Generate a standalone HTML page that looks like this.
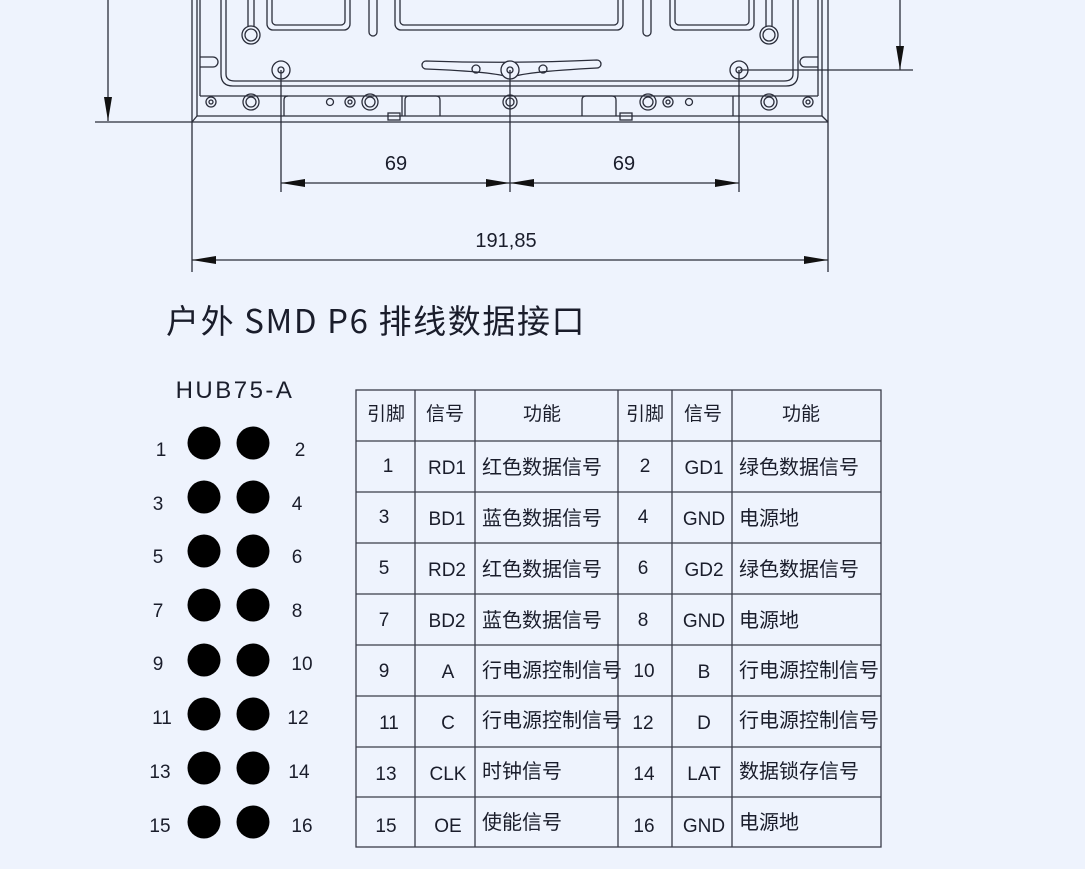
<!DOCTYPE html>
<html><head><meta charset="utf-8">
<style>
html,body{margin:0;padding:0;background:#eef3fd;}
svg{display:block}
text{font-family:"Liberation Sans","Noto Sans CJK SC",sans-serif;fill:#1a1d2b}
.n{font-family:"Noto Sans CJK SC","Liberation Sans",sans-serif}
</style></head>
<body>
<svg width="1085" height="869" viewBox="0 0 1085 869" xmlns="http://www.w3.org/2000/svg">
<defs>
<marker id="ar" viewBox="0 0 24 8" refX="24" refY="4" markerWidth="24" markerHeight="8" markerUnits="userSpaceOnUse" orient="auto-start-reverse"><path d="M0,0L24,4L0,8z" fill="#111"/></marker>
</defs>
<g stroke="#2a2d3a" stroke-width="1.3" fill="none">
<line x1="108" y1="0" x2="108" y2="121" marker-end="url(#ar)"/>
<line x1="95" y1="122" x2="192" y2="122"/>
<line x1="900" y1="0" x2="900" y2="70" marker-end="url(#ar)"/>
<line x1="740" y1="70" x2="913" y2="70"/>
<line x1="192" y1="0" x2="192" y2="272"/>
<line x1="828" y1="0" x2="828" y2="272"/>
<line x1="197" y1="0" x2="197" y2="116"/>
<line x1="200" y1="0" x2="200" y2="96"/>
<line x1="818" y1="0" x2="818" y2="96"/>
<line x1="822" y1="0" x2="822" y2="116"/>
<line x1="192" y1="122" x2="828" y2="122"/>
<line x1="197" y1="116" x2="822" y2="116"/>
<line x1="192" y1="122" x2="197" y2="116"/>
<line x1="828" y1="122" x2="822" y2="116"/>
<line x1="200" y1="96" x2="818" y2="96"/>
<path d="M221,0 V74 Q221,86 233,86 H786 Q798,86 798,74 V0"/>
<path d="M226,0 V74 Q226,81 235,81 H784 Q793,81 793,74 V0"/>
<path d="M200,57 H213 A5,5 0 0 1 213,67 H200"/>
<path d="M818,57 H805 A5,5 0 0 0 805,67 H818"/>
<rect x="267" y="-10" width="83" height="40" rx="6"/>
<rect x="272" y="-10" width="73" height="35" rx="4"/>
<rect x="395" y="-10" width="228" height="40" rx="6"/>
<rect x="400" y="-10" width="218" height="35" rx="4"/>
<rect x="670" y="-10" width="84" height="40" rx="6"/>
<rect x="675" y="-10" width="74" height="35" rx="4"/>
<rect x="369" y="-10" width="8" height="46" rx="4"/>
<rect x="643" y="-10" width="8" height="46" rx="4"/>
<path d="M248,0 V27 M254,0 V27"/>
<circle cx="251" cy="35" r="9"/><circle cx="251" cy="35" r="6"/>
<path d="M766,0 V27 M772,0 V27"/>
<circle cx="769" cy="35" r="9"/><circle cx="769" cy="35" r="6"/>
<circle cx="281" cy="70" r="9"/><circle cx="281" cy="70" r="3"/>
<circle cx="739" cy="70" r="9"/><circle cx="739" cy="70" r="3"/>
<path d="M426,61 Q510,64 597,60 A4,4 0 0 1 597,68 Q520,72 510,78 Q500,72 426,69 A4,4 0 0 1 426,61z"/>
<circle cx="476" cy="69" r="4"/><circle cx="543" cy="69" r="4"/>
<circle cx="510" cy="70" r="9" fill="#eef3fd"/><circle cx="510" cy="70" r="3"/>
<path d="M284,116 V100 Q284,96 288,96 M400,96 H402 V116"/>
<path d="M405,116 V100 Q405,96 409,96 H436 Q440,96 440,100 V116"/>
<path d="M582,116 V100 Q582,96 586,96 H612 Q616,96 616,100 V116"/>
<path d="M733,96 V116"/>
<rect x="388" y="113" width="12" height="7"/>
<rect x="620" y="113" width="12" height="7"/>
<circle cx="211" cy="102" r="5"/><circle cx="211" cy="102" r="2"/>
<circle cx="251" cy="102" r="8"/><circle cx="251" cy="102" r="5"/>
<circle cx="330" cy="102" r="3.5"/>
<circle cx="350" cy="102" r="5"/><circle cx="350" cy="102" r="2"/>
<circle cx="370" cy="102" r="8"/><circle cx="370" cy="102" r="5"/>
<circle cx="510" cy="102" r="7"/><circle cx="510" cy="102" r="4"/>
<circle cx="648" cy="102" r="8"/><circle cx="648" cy="102" r="5"/>
<circle cx="668" cy="102" r="5"/><circle cx="668" cy="102" r="2"/>
<circle cx="689" cy="102" r="3.5"/>
<circle cx="769" cy="102" r="8"/><circle cx="769" cy="102" r="5"/>
<circle cx="808" cy="102" r="5"/><circle cx="808" cy="102" r="2"/>
<line x1="281" y1="70" x2="281" y2="192"/>
<line x1="510" y1="70" x2="510" y2="192"/>
<line x1="739" y1="70" x2="739" y2="192"/>
<line x1="281" y1="183" x2="510" y2="183" marker-start="url(#ar)" marker-end="url(#ar)"/>
<line x1="510" y1="183" x2="739" y2="183" marker-start="url(#ar)" marker-end="url(#ar)"/>
<line x1="192" y1="260" x2="828" y2="260" marker-start="url(#ar)" marker-end="url(#ar)"/>
</g>
<text x="396" y="170" font-size="20" text-anchor="middle">69</text>
<text x="624" y="170" font-size="20" text-anchor="middle">69</text>
<text x="506" y="247" font-size="20" text-anchor="middle">191,85</text>

<text class="n" x="166" y="333" font-size="33" letter-spacing="1.6">户外 SMD P6 排线数据接口</text>
<text x="235" y="398" font-size="24" text-anchor="middle" letter-spacing="2.5">HUB75-A</text>

<g fill="#000">
<circle cx="204" cy="443" r="16.5"/><circle cx="253" cy="443" r="16.5"/>
<circle cx="204" cy="497" r="16.5"/><circle cx="253" cy="497" r="16.5"/>
<circle cx="204" cy="551" r="16.5"/><circle cx="253" cy="551" r="16.5"/>
<circle cx="204" cy="605" r="16.5"/><circle cx="253" cy="605" r="16.5"/>
<circle cx="204" cy="660" r="16.5"/><circle cx="253" cy="660" r="16.5"/>
<circle cx="204" cy="714" r="16.5"/><circle cx="253" cy="714" r="16.5"/>
<circle cx="204" cy="768" r="16.5"/><circle cx="253" cy="768" r="16.5"/>
<circle cx="204" cy="822" r="16.5"/><circle cx="253" cy="822" r="16.5"/>
</g>
<g font-size="19" text-anchor="middle">
<text x="161" y="456">1</text><text x="300" y="456">2</text>
<text x="158" y="510">3</text><text x="297" y="510">4</text>
<text x="158" y="563">5</text><text x="297" y="563">6</text>
<text x="158" y="617">7</text><text x="297" y="617">8</text>
<text x="158" y="670">9</text><text x="302" y="670">10</text>
<text x="162" y="724">11</text><text x="298" y="724">12</text>
<text x="160" y="778">13</text><text x="299" y="778">14</text>
<text x="160" y="832">15</text><text x="302" y="832">16</text>
</g>

<g stroke="#3a3d4a" stroke-width="1.3" fill="none">
<rect x="356" y="390" width="525" height="457"/>
<line x1="415" y1="390" x2="415" y2="847"/>
<line x1="475" y1="390" x2="475" y2="847"/>
<line x1="618" y1="390" x2="618" y2="847"/>
<line x1="672" y1="390" x2="672" y2="847"/>
<line x1="732" y1="390" x2="732" y2="847"/>
<line x1="356" y1="441" x2="881" y2="441"/>
<line x1="356" y1="492" x2="881" y2="492"/>
<line x1="356" y1="543" x2="881" y2="543"/>
<line x1="356" y1="594" x2="881" y2="594"/>
<line x1="356" y1="645" x2="881" y2="645"/>
<line x1="356" y1="696" x2="881" y2="696"/>
<line x1="356" y1="747" x2="881" y2="747"/>
<line x1="356" y1="797" x2="881" y2="797"/>
</g>
<g font-size="19" text-anchor="middle">
<text x="386" y="420">引脚</text><text x="445" y="420">信号</text><text x="542" y="420">功能</text>
<text x="645" y="420">引脚</text><text x="703" y="420">信号</text><text x="801" y="420">功能</text>
</g>
<g font-size="19" text-anchor="middle">
<text x="388" y="472">1</text><text x="447" y="474">RD1</text><text x="645" y="472">2</text><text x="704" y="474">GD1</text>
<text x="384" y="523">3</text><text x="447" y="525">BD1</text><text x="643" y="523">4</text><text x="704" y="525">GND</text>
<text x="384" y="574">5</text><text x="447" y="576">RD2</text><text x="643" y="574">6</text><text x="704" y="576">GD2</text>
<text x="384" y="626">7</text><text x="447" y="627">BD2</text><text x="643" y="626">8</text><text x="704" y="627">GND</text>
<text x="384" y="677">9</text><text x="448" y="678">A</text><text x="644" y="677">10</text><text x="704" y="678">B</text>
<text x="389" y="729">11</text><text x="448" y="729">C</text><text x="643" y="729">12</text><text x="704" y="729">D</text>
<text x="386" y="780">13</text><text x="448" y="780">CLK</text><text x="644" y="780">14</text><text x="704" y="780">LAT</text>
<text x="386" y="832">15</text><text x="448" y="832">OE</text><text x="644" y="832">16</text><text x="704" y="832">GND</text>
</g>
<g font-size="20">
<text x="482" y="474">红色数据信号</text><text x="739" y="474">绿色数据信号</text>
<text x="482" y="525">蓝色数据信号</text><text x="739" y="525">电源地</text>
<text x="482" y="576">红色数据信号</text><text x="739" y="576">绿色数据信号</text>
<text x="482" y="627">蓝色数据信号</text><text x="739" y="627">电源地</text>
<text x="482" y="677">行电源控制信号</text><text x="739" y="677">行电源控制信号</text>
<text x="482" y="727">行电源控制信号</text><text x="739" y="727">行电源控制信号</text>
<text x="482" y="778">时钟信号</text><text x="739" y="778">数据锁存信号</text>
<text x="482" y="829">使能信号</text><text x="739" y="829">电源地</text>
</g>
</svg>
</body></html>
